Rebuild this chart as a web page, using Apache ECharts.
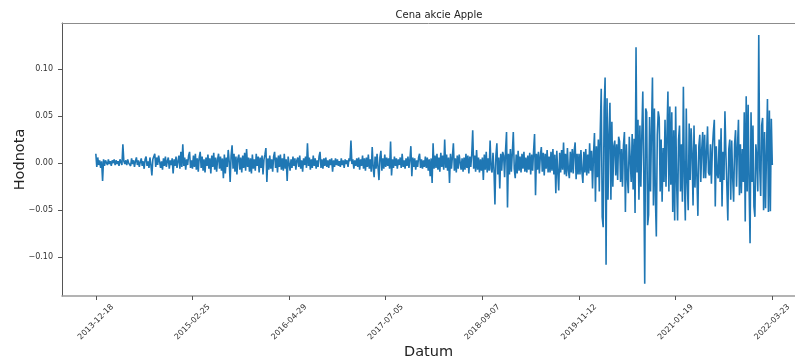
<!DOCTYPE html>
<html>
<head>
<meta charset="utf-8">
<script src="https://cdn.jsdelivr.net/npm/echarts@6/dist/echarts.min.js"></script>
<style>
  html, body { margin: 0; padding: 0; background: #fff; }
  #chart { width: 795px; height: 360px; }
</style>
</head>
<body>
<div id="chart"></div>
<script>
// Tick labels (dates) and their positions along the sample index
const tickLabels = ['2013-12-18','2015-02-25','2016-04-29','2017-07-05','2018-09-07','2019-11-12','2021-01-19','2022-03-23'];
const tickIndex = [0, 100, 200, 300, 400, 500, 600, 700];
const yTicks = [-0.10, -0.05, 0.00, 0.05, 0.10];

// Daily change values, one array per tick interval
const seg2014 = [
 0.010,-0.004,0.006,-0.002,0.003,-0.005,0.002,-0.019,0.004,-0.003,
 0.003,0.001,-0.002,0.004,-0.001,0.002,-0.003,0.003,0.000,0.004,
 -0.002,0.003,-0.001,0.002,-0.003,0.004,0.001,-0.002,0.020,0.002,
 -0.001,0.003,-0.002,0.004,0.000,0.002,-0.003,0.005,-0.001,0.003,
 -0.004,0.002,0.006,-0.002,0.003,-0.004,0.001,0.005,-0.003,0.002,
 -0.006,0.004,0.007,-0.003,0.002,-0.005,0.006,-0.002,-0.013,0.004,
 0.003,0.010,-0.004,0.006,-0.002,0.008,0.010,-0.005,0.002,-0.007,
 0.005,-0.003,0.007,-0.004,0.002,0.006,-0.006,0.003,-0.002,0.005,
 -0.011,0.004,-0.003,0.007,-0.005,0.002,0.008,-0.006,0.012,-0.004,
 0.020,-0.003,0.006,-0.007,0.004,-0.002,0.008,0.012,-0.005,0.003
];
const seg2015 = [
 -0.006,0.008,-0.004,0.010,-0.007,0.005,-0.009,0.006,0.012,-0.005,
 0.007,-0.008,0.004,-0.010,0.006,-0.003,0.009,-0.006,0.005,-0.011,
 0.008,-0.004,0.011,-0.007,0.006,-0.009,0.004,0.010,-0.006,0.007,
 -0.008,0.005,-0.016,0.009,-0.011,0.006,-0.004,0.014,0.002,-0.020,
 0.008,0.019,-0.006,0.010,-0.009,0.007,-0.012,0.005,0.009,-0.007,
 0.006,-0.010,0.008,-0.005,0.011,-0.008,0.015,-0.004,0.006,-0.009,
 0.005,-0.011,0.009,-0.006,0.004,-0.008,0.010,-0.003,0.007,-0.010,
 0.006,-0.005,0.008,-0.012,0.004,0.009,0.016,-0.020,0.005,-0.007,
 0.008,-0.006,0.004,-0.009,0.007,0.012,-0.005,0.006,-0.010,0.008,
 -0.004,0.009,-0.007,0.005,-0.008,0.010,-0.006,0.004,-0.019,0.007
];
const seg2016 = [
 0.006,-0.008,0.004,-0.005,0.007,-0.003,0.005,-0.007,0.003,0.006,
 -0.004,0.008,-0.006,0.003,-0.009,0.005,-0.002,0.007,-0.005,0.021,
 -0.003,0.006,-0.007,0.004,-0.005,0.008,-0.003,0.005,-0.006,0.003,
 -0.004,0.007,0.012,-0.005,0.004,-0.006,0.005,-0.003,0.006,-0.004,
 0.003,-0.005,0.004,-0.002,0.005,-0.009,0.003,-0.004,0.005,-0.002,
 0.004,-0.003,0.002,-0.004,0.005,-0.002,0.003,-0.005,0.004,-0.001,
 0.003,-0.004,0.005,0.002,0.024,-0.001,0.004,-0.006,0.003,-0.003,
 0.005,-0.004,0.006,-0.007,0.004,-0.003,0.008,-0.006,0.005,-0.008,
 0.006,-0.004,0.009,-0.006,0.004,-0.009,0.017,-0.005,-0.015,0.007,
 -0.006,0.010,-0.004,-0.018,0.006,0.013,-0.008,0.005,-0.006,0.009
];
const seg2017 = [
 -0.004,0.006,-0.003,0.005,-0.006,0.023,-0.013,0.004,-0.005,0.007,
 -0.003,0.005,-0.006,0.004,-0.002,0.006,-0.005,0.010,-0.004,0.003,
 -0.006,0.005,-0.003,0.007,-0.005,0.004,0.018,-0.014,0.006,-0.004,
 0.005,-0.007,0.003,-0.004,0.006,0.010,-0.005,0.004,-0.006,0.003,
 -0.004,0.007,-0.005,0.006,-0.008,0.004,-0.014,0.005,-0.021,0.021,
 -0.006,0.008,-0.005,0.010,-0.007,0.006,-0.009,0.011,-0.004,0.008,
 -0.007,0.025,-0.005,0.009,-0.008,0.006,-0.021,0.010,-0.006,0.007,
 0.021,-0.008,0.005,-0.010,0.008,-0.006,0.009,0.011,-0.007,0.005,
 -0.009,0.006,-0.007,0.010,-0.005,0.008,-0.011,0.007,-0.004,0.009,
 0.035,-0.006,0.008,-0.009,0.014,-0.007,0.006,-0.010,0.004,-0.008
];
const seg2018 = [
 0.006,-0.018,0.009,-0.007,0.012,-0.010,0.005,-0.008,0.024,-0.006,
 -0.010,0.011,-0.007,-0.044,0.008,0.021,-0.012,0.006,-0.027,0.010,
 -0.008,0.012,0.008,-0.015,0.014,0.033,-0.047,0.010,-0.012,0.015,
 -0.009,0.011,0.033,-0.006,-0.016,0.009,-0.011,0.013,-0.008,0.007,
 -0.010,0.010,-0.006,0.012,-0.009,0.006,-0.010,0.008,-0.007,0.011,
 -0.012,0.009,-0.008,0.013,0.031,-0.034,0.010,-0.007,0.012,-0.011,
 0.008,0.017,-0.009,0.011,-0.013,0.010,-0.006,0.014,-0.010,0.007,
 -0.010,0.012,-0.008,0.015,-0.012,0.009,-0.032,0.013,-0.009,-0.029,
 0.011,-0.010,0.014,-0.007,0.022,-0.012,0.010,-0.014,0.016,-0.008,
 -0.016,0.012,-0.010,0.015,-0.011,0.013,0.022,-0.017,0.010,-0.012
];
const seg2019 = [
 0.010,-0.012,0.014,-0.009,-0.021,0.012,-0.010,0.015,-0.013,0.009,
 -0.011,0.021,-0.008,0.013,-0.027,0.010,0.032,-0.041,0.018,-0.015,
 0.025,-0.030,0.035,0.079,-0.057,-0.068,0.058,0.091,-0.108,0.069,
 -0.039,0.030,0.064,-0.039,0.044,-0.025,0.018,0.024,-0.013,0.020,
 -0.018,0.028,0.023,-0.020,0.015,-0.025,0.019,0.033,-0.052,0.020,
 -0.015,-0.032,0.028,0.028,-0.020,0.031,-0.028,0.026,-0.053,0.123,
 -0.010,0.046,-0.039,0.040,-0.025,0.030,0.076,-0.010,-0.128,0.058,
 0.054,-0.066,-0.055,0.049,-0.030,0.035,0.091,-0.045,0.058,-0.035,
 -0.078,0.030,0.055,0.048,-0.030,0.025,-0.041,0.016,-0.020,0.046,
 -0.025,0.030,0.076,-0.030,0.060,-0.023,0.054,-0.052,0.035,-0.061
];
const seg2021 = [
 0.060,-0.020,-0.061,0.025,0.040,-0.030,0.020,-0.041,0.081,-0.015,
 -0.061,0.058,-0.020,-0.050,0.042,-0.018,0.037,0.010,-0.045,0.040,
 -0.026,0.020,-0.015,-0.056,0.018,0.030,-0.020,0.015,0.033,-0.016,
 0.030,-0.016,0.012,0.039,-0.010,-0.013,0.020,-0.022,0.015,0.033,
 0.046,-0.046,0.018,-0.012,-0.016,0.025,-0.020,0.037,-0.046,0.012,
 -0.018,0.055,0.010,-0.025,-0.061,0.015,0.025,-0.039,0.024,-0.015,
 -0.041,0.020,0.035,-0.025,0.018,0.046,-0.034,0.020,-0.032,0.015,
 -0.020,0.054,-0.062,0.071,-0.030,0.062,-0.025,-0.085,0.054,-0.020,
 0.040,-0.046,-0.057,0.020,0.005,-0.030,0.136,-0.005,-0.035,0.040,
 0.048,-0.050,0.033,-0.048,-0.046,0.068,-0.052,0.056,-0.051,0.047
];
const lastValue = [-0.002];

const values = [].concat(seg2014, seg2015, seg2016, seg2017, seg2018, seg2019, seg2021, lastValue);
const seriesData = values.map((v, i) => [i, v]);

const FONT = 'DejaVu Sans';
const chart = echarts.init(document.getElementById('chart'), null, { renderer: 'canvas' });

chart.setOption({
  animation: false,
  backgroundColor: '#ffffff',
  title: {
    text: 'Cena akcie Apple',
    left: 434,
    top: 5,
    textAlign: 'center',
    textStyle: { fontFamily: FONT, fontSize: 10, fontWeight: 'normal', color: '#222' }
  },
  grid: {
    left: 62, top: 23, right: 0, bottom: 64,
    outerBoundsMode: 'none',
    containLabel: false,
    show: false
  },
  xAxis: [{
    type: 'value',
    min: -35, max: 723.5,
    name: 'Datum',
    nameLocation: 'middle',
    nameMoveOverlap: false,
    nameGap: 49,
    nameTextStyle: { fontFamily: FONT, fontSize: 14.5, color: '#222' },
    axisLine: { onZero: false, lineStyle: { color: '#9a9a9a', width: 1.5 } },
    axisTick: { show: true, length: 4, customValues: tickIndex, lineStyle: { color: '#555' } },
    splitLine: { show: false },
    axisLabel: {
      customValues: tickIndex,
      rotate: 45,
      align: 'center',
      verticalAlign: 'middle',
      margin: 26,
      fontFamily: FONT, fontSize: 8, color: '#333',
      formatter: v => tickLabels[tickIndex.indexOf(Math.round(v))] || ''
    }
  }, {
    type: 'value',
    position: 'top',
    min: -35, max: 723.5,
    axisLine: { show: true, onZero: false, lineStyle: { color: '#8c8c8c', width: 1 } },
    axisTick: { show: false },
    axisLabel: { show: false },
    splitLine: { show: false }
  }],
  yAxis: {
    type: 'value',
    min: -0.1411, max: 0.1488,
    name: 'Hodnota',
    nameLocation: 'middle',
    nameMoveOverlap: false,
    nameGap: 34,
    nameTextStyle: { fontFamily: FONT, fontSize: 14.5, color: '#222' },
    axisLine: { show: true, onZero: false, lineStyle: { color: '#555', width: 1 } },
    axisTick: { show: true, length: 4, customValues: yTicks, lineStyle: { color: '#555' } },
    splitLine: { show: false },
    axisLabel: {
      customValues: yTicks,
      margin: 9,
      fontFamily: FONT, fontSize: 8, color: '#333',
      formatter: v => (v < -1e-9 ? '\u2212' : '') + Math.abs(v).toFixed(2)
    }
  },
  series: [{
    type: 'line',
    xAxisIndex: 0,
    data: seriesData,
    showSymbol: false,
    symbol: 'none',
    sampling: null,
    lineStyle: { color: '#1f77b4', width: 1.6 },
    itemStyle: { color: '#1f77b4' },
    silent: true
  }]
});
</script>
</body>
</html>
